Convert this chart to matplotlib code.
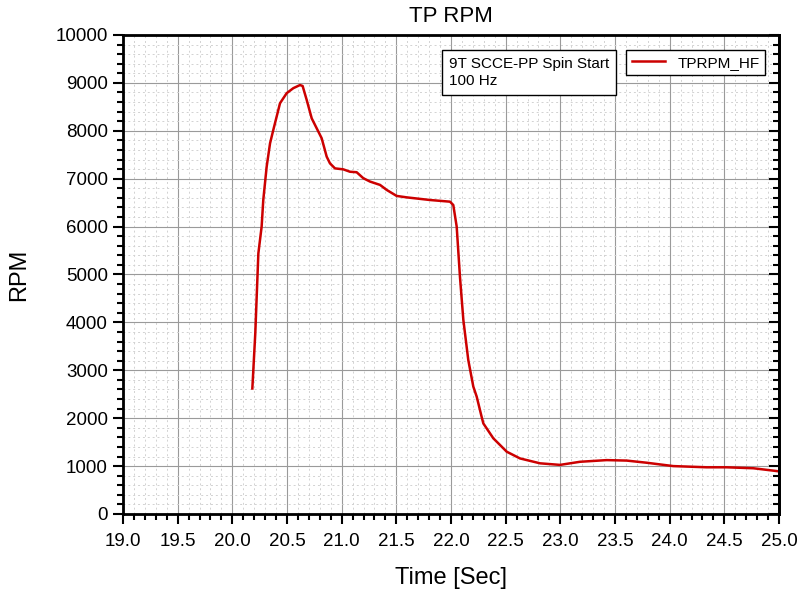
import matplotlib
matplotlib.use("Agg")
import matplotlib.pyplot as plt
from matplotlib.ticker import MultipleLocator

plt.rcParams['font.family'] = ['Liberation Sans', 'DejaVu Sans']

# TPRPM_HF trace
time_s = [20.183, 20.21, 20.238, 20.268, 20.283, 20.314, 20.345, 20.375, 20.436,
          20.497, 20.558, 20.619, 20.643, 20.68, 20.726, 20.772, 20.817, 20.863,
          20.893, 20.939, 21.015, 21.076, 21.137, 21.198, 21.259, 21.351, 21.412,
          21.503, 21.595, 21.808, 21.991, 22.021, 22.052, 22.082, 22.113, 22.158,
          22.204, 22.235, 22.28, 22.296, 22.387, 22.51, 22.631, 22.814, 22.997,
          23.18, 23.424, 23.607, 23.79, 24.033, 24.339, 24.52, 24.765, 24.948, 25.0]
rpm = [2620, 3775, 5440, 6000, 6555, 7250, 7740, 8020, 8575,
       8785, 8890, 8955, 8935, 8645, 8260, 8050, 7845, 7460,
       7320, 7215, 7195, 7145, 7135, 7010, 6940, 6870, 6765,
       6640, 6610, 6555, 6520, 6450, 6000, 4950, 4050, 3215,
       2660, 2450, 2030, 1890, 1580, 1300, 1160, 1058, 1025,
       1090, 1125, 1115, 1070, 1000, 975, 975, 955, 905, 890]

fig = plt.figure(figsize=(8, 5.91), dpi=100)
ax = fig.add_axes([0.15375, 0.1303, 0.82, 0.8105])

ax.plot(time_s, rpm, color='#cc0000', lw=1.8, label='TPRPM_HF')

ax.set_xlim(19, 25)
ax.set_ylim(0, 10000)
ax.xaxis.set_major_locator(MultipleLocator(0.5))
ax.xaxis.set_minor_locator(MultipleLocator(0.1))
ax.yaxis.set_major_locator(MultipleLocator(1000))
ax.yaxis.set_minor_locator(MultipleLocator(200))
ax.xaxis.set_major_formatter(lambda v, p: f"{v:.1f}")

ax.grid(which='major', color='#9a9a9a', lw=0.8, ls='-')
ax.grid(which='minor', color='#d2d2d2', lw=0.7, ls=(0, (2, 3)))
ax.set_axisbelow(True)

ax.tick_params(which='both', direction='out', top=False, right=False, labelsize=13.5, width=1.5)
ax.tick_params(which='major', length=7)
ax.tick_params(which='minor', length=4)
ax.tick_params(axis='x', pad=7)
ax.tick_params(axis='y', pad=4)
for s in ax.spines.values():
    s.set_linewidth(2)

# right side: inward ticks, no labels
ax2 = ax.twinx()
ax2.set_ylim(0, 10000)
ax2.yaxis.set_major_locator(MultipleLocator(1000))
ax2.yaxis.set_minor_locator(MultipleLocator(200))
ax2.tick_params(which='both', direction='in', labelright=False, width=1.5)
ax2.tick_params(which='major', length=7)
ax2.tick_params(which='minor', length=4)
ax2.spines['right'].set_linewidth(2)

ax.set_title('TP RPM', fontsize=16, pad=9)
ax.set_xlabel('Time [Sec]', fontsize=17, labelpad=12)
ax.set_ylabel('RPM', fontsize=17, labelpad=18)

ax.text(0.4965, 0.955, '9T SCCE-PP Spin Start\n100 Hz', transform=ax.transAxes,
        fontsize=11, va='top', ha='left', linespacing=1.3,
        bbox=dict(boxstyle='square,pad=0.45', fc='white', ec='black', lw=1))

leg = ax2.legend(*ax.get_legend_handles_labels(), loc='upper right',
                 bbox_to_anchor=(0.9905, 0.984), fontsize=11,
                 frameon=True, fancybox=False, edgecolor='black', framealpha=1,
                 handlelength=2.2, borderpad=0.35)
leg.get_frame().set_linewidth(1)

fig.savefig('out.png', dpi=100)
